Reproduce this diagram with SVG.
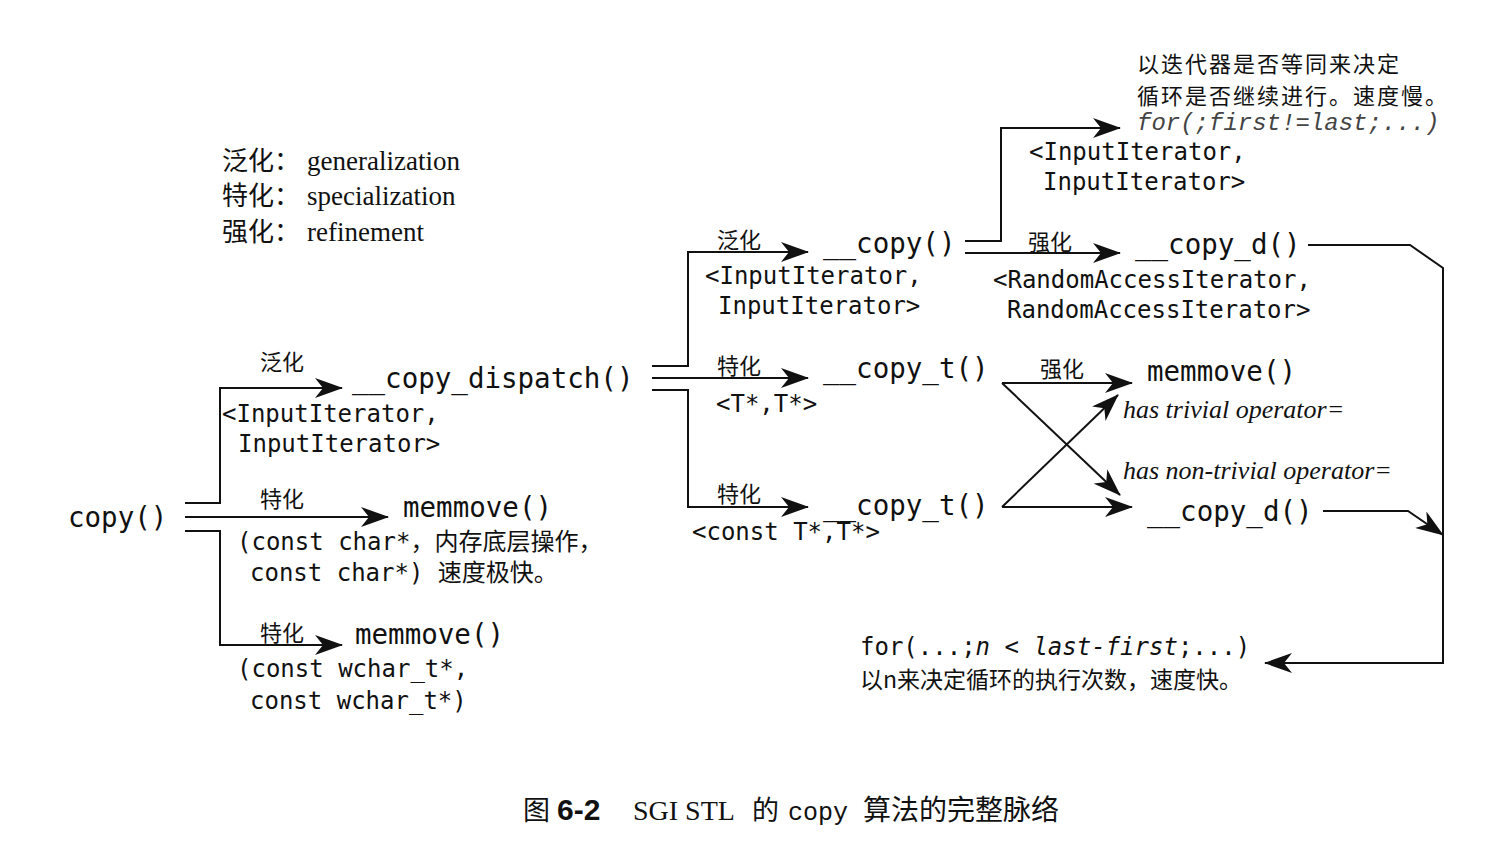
<svg xmlns="http://www.w3.org/2000/svg" width="1499" height="845" viewBox="0 0 1499 845">
<style>
.fn{font-family:"DejaVu Sans Mono","Noto Sans CJK SC",monospace;font-size:27.5px;fill:#111}
.ty{font-family:"DejaVu Sans Mono","Noto Sans CJK SC",monospace;font-size:24px;fill:#111}
.cj{font-family:"Noto Sans CJK SC",sans-serif;font-size:22px;fill:#111}
.nt{font-family:"Noto Sans CJK SC",sans-serif;font-size:22px;letter-spacing:2px;fill:#111}
.it{font-family:"Liberation Serif",serif;font-style:italic;font-size:26px;fill:#111}
.lg{font-family:"Noto Sans CJK SC",sans-serif;font-size:26px;fill:#111}
.lgl{font-family:"Liberation Serif",serif;font-size:27px;fill:#111}
.ln{fill:none;stroke:#111;stroke-width:2}
</style>
<defs>
<marker id="ah" viewBox="0 0 28 20" refX="27" refY="10" markerWidth="28" markerHeight="20" orient="auto" markerUnits="userSpaceOnUse">
<path d="M0,0 L28,10 L0,20 L8,10 z" fill="#111"/>
</marker>
</defs>
<rect width="1499" height="845" fill="#fff"/>

<g id="legend">
<text class="lg" x="222" y="170">泛化：</text><text class="lgl" x="307" y="170">generalization</text>
<text class="lg" x="222" y="205">特化：</text><text class="lgl" x="307" y="205">specialization</text>
<text class="lg" x="222" y="241">强化：</text><text class="lgl" x="307" y="241">refinement</text>
</g>

<g id="connectors">
<path class="ln" d="M185,503 H220 V388 H342" marker-end="url(#ah)"/>
<path class="ln" d="M185,517 H388" marker-end="url(#ah)"/>
<path class="ln" d="M185,531 H220 V645 H342" marker-end="url(#ah)"/>
<path class="ln" d="M652,366 H688 V252 H808" marker-end="url(#ah)"/>
<path class="ln" d="M652,378 H808" marker-end="url(#ah)"/>
<path class="ln" d="M652,390 H688 V507 H808" marker-end="url(#ah)"/>
<path class="ln" d="M965,241 H1001 V128 H1120" marker-end="url(#ah)"/>
<path class="ln" d="M965,253 H1120" marker-end="url(#ah)"/>
<path class="ln" d="M1308,245 H1410 L1443,268 V663 H1265" marker-end="url(#ah)"/>
<path class="ln" d="M1002,383 H1132" marker-end="url(#ah)"/>
<path class="ln" d="M1002,383 L1120,495" marker-end="url(#ah)"/>
<path class="ln" d="M1002,507 H1132" marker-end="url(#ah)"/>
<path class="ln" d="M1002,507 L1118,395" marker-end="url(#ah)"/>
<path class="ln" d="M1323,511 H1408 L1443,535" marker-end="url(#ah)"/>
</g>

<g id="edge-labels">
<text class="cj" x="260" y="370">泛化</text>
<text class="cj" x="260" y="507">特化</text>
<text class="cj" x="260" y="641">特化</text>
<text class="cj" x="717" y="248">泛化</text>
<text class="cj" x="717" y="374">特化</text>
<text class="cj" x="717" y="502">特化</text>
<text class="cj" x="1028" y="250">强化</text>
<text class="cj" x="1040" y="377">强化</text>
<text class="it" x="1123" y="418">has trivial operator=</text>
<text class="it" x="1123" y="479">has non-trivial operator=</text>
</g>

<g id="node-copy">
<text class="fn" x="68" y="527">copy()</text>
</g>

<g id="node-copy-dispatch">
<text class="fn" x="352" y="388">__copy_dispatch()</text>
<text class="ty" x="222" y="422">&lt;InputIterator,</text>
<text class="ty" x="238" y="452">InputIterator&gt;</text>
</g>

<g id="node-memmove-char">
<text class="fn" x="403" y="517">memmove()</text>
<text class="ty" x="237" y="550">(const char*，内存底层操作，</text>
<text class="ty" x="250" y="581">const char*) 速度极快。</text>
</g>

<g id="node-memmove-wchar">
<text class="fn" x="355" y="644">memmove()</text>
<text class="ty" x="237" y="677">(const wchar_t*,</text>
<text class="ty" x="250" y="709">const wchar_t*)</text>
</g>

<g id="node-copy-generic">
<text class="fn" x="823" y="253">__copy()</text>
<text class="ty" x="705" y="284">&lt;InputIterator,</text>
<text class="ty" x="718" y="314">InputIterator&gt;</text>
</g>

<g id="node-copy-t-1">
<text class="fn" x="823" y="378">__copy_t()</text>
<text class="ty" x="716" y="412">&lt;T*,T*&gt;</text>
</g>

<g id="node-copy-t-2">
<text class="fn" x="823" y="515">__copy_t()</text>
<text class="ty" x="692" y="540">&lt;const T*,T*&gt;</text>
</g>

<g id="node-input-loop">
<text class="nt" x="1137" y="72">以迭代器是否等同来决定</text>
<text class="nt" x="1137" y="104">循环是否继续进行。速度慢。</text>
<text x="1137" y="130" style="font-family:'Liberation Mono',monospace;font-style:italic;font-size:24px;fill:#444">for(;first!=last;...)</text>
<text class="ty" x="1029" y="160">&lt;InputIterator,</text>
<text class="ty" x="1043" y="190">InputIterator&gt;</text>
</g>

<g id="node-copy-d-1">
<text class="fn" x="1135" y="254">__copy_d()</text>
<text class="ty" x="993" y="288">&lt;RandomAccessIterator,</text>
<text class="ty" x="1007" y="318">RandomAccessIterator&gt;</text>
</g>

<g id="node-memmove-trivial">
<text class="fn" x="1147" y="381">memmove()</text>
</g>

<g id="node-copy-d-2">
<text class="fn" x="1147" y="521">__copy_d()</text>
</g>

<g id="node-n-loop">
<text class="ty" x="860" y="655">for(...;<tspan font-style="italic">n</tspan> &lt; <tspan font-style="italic">last-first</tspan>;...)</text>
<text class="nt" x="860" y="688" style="font-size:23px;letter-spacing:0px">以n来决定循环的执行次数，速度快。</text>
</g>

<g id="caption">
<text x="523" y="820" style="font-family:'Noto Sans CJK SC',sans-serif;font-size:27px;fill:#111">图</text>
<text x="557" y="820" style="font-family:'Liberation Sans',sans-serif;font-weight:bold;font-size:30px;fill:#111">6-2</text>
<text x="633" y="820" style="font-family:'Liberation Serif',serif;font-size:28px;fill:#111">SGI STL</text>
<text x="752" y="820" style="font-family:'Noto Sans CJK SC',sans-serif;font-size:27px;fill:#111">的</text>
<text x="788" y="820" style="font-family:'Liberation Mono',monospace;font-size:25px;fill:#111">copy</text>
<text x="863" y="820" style="font-family:'Noto Sans CJK SC',sans-serif;font-size:28px;fill:#111">算法的完整脉络</text>
</g>
</svg>
